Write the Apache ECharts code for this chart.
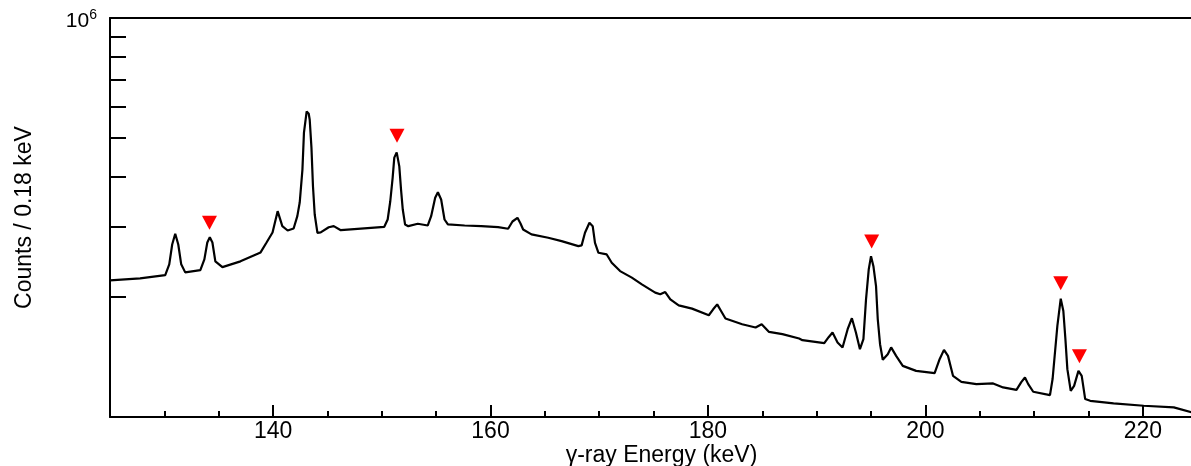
<!DOCTYPE html>
<html>
<head>
<meta charset="utf-8">
<script src="https://cdn.jsdelivr.net/npm/echarts@6/dist/echarts.min.js"></script>
<style>
  html, body { margin: 0; padding: 0; background: #fff; }
  #chart { width: 1191px; height: 466px; }
</style>
</head>
<body>
<div id="chart"></div>
<script>
// spectrum (keV, counts per 0.18 keV)
const energy = [
  125.0, 127.77, 130.08, 130.45, 130.72, 131.0, 131.28, 131.55, 131.92, 133.31,
  133.68, 133.95, 134.18, 134.42, 134.69, 135.34, 137.0, 138.85, 139.4, 139.95,
  140.42, 140.85, 141.34, 141.89, 142.23, 142.45, 142.7, 142.84, 143.09, 143.28,
  143.37, 143.53, 143.67, 143.83, 144.08, 144.38, 145.12, 145.58, 146.23, 147.77,
  150.23, 150.54, 150.78, 151.0, 151.15, 151.37, 151.61, 151.77, 151.93, 152.14,
  152.44, 153.31, 154.23, 154.54, 154.91, 155.16, 155.46, 155.77, 156.08, 157.62,
  159.15, 160.7, 161.62, 162.02, 162.48, 162.76, 163.0, 163.77, 165.31, 166.54,
  168.08, 168.38, 168.69, 169.1, 169.4, 169.61, 169.93, 170.69, 171.15, 171.92,
  173.0, 173.92, 175.15, 175.61, 176.07, 176.54, 177.31, 178.54, 180.08, 180.48,
  180.85, 181.22, 181.61, 183.15, 184.38, 184.94, 185.62, 186.85, 188.39, 188.69,
  190.7, 191.1, 191.46, 191.92, 192.38, 192.85, 193.24, 193.61, 193.98, 194.3,
  194.54, 194.79, 195.0, 195.22, 195.46, 195.62, 195.83, 196.08, 196.54, 196.85,
  197.31, 197.92, 199.15, 200.85, 201.31, 201.71, 202.08, 202.54, 203.31, 204.69,
  206.23, 207.15, 208.38, 208.82, 209.16, 209.46, 209.92, 211.46, 211.7, 211.92,
  212.14, 212.45, 212.69, 212.88, 213.06, 213.37, 213.68, 214.08, 214.38, 214.7,
  215.16, 217.31, 220.08, 222.85, 224.79
]
const counts = [
  220000, 222600, 226800, 241300, 270600, 287900, 270600, 241300, 230400, 233400,
  248300, 273800, 282300, 273800, 245500, 237500, 245500, 258500, 273800, 290100,
  328000, 300800, 293400, 296800, 318700, 344700, 416900, 515800, 583300, 575400,
  555900, 473200, 378700, 321800, 289500, 290100, 299000, 300800, 293900, 296300,
  299700, 312600, 347300, 398100, 446700, 460500, 424800, 371500, 331100, 303800,
  300800, 305000, 302000, 318700, 354200, 365800, 350800, 312600, 303800, 302000,
  300800, 299000, 296300, 309000, 315700, 305500, 295100, 286800, 281300, 275900,
  268100, 269200, 289500, 306700, 300800, 273300, 258000, 255500, 243600, 232100,
  223500, 215000, 205000, 203000, 205700, 197200, 190500, 186900, 179900, 186200,
  191600, 184100, 176500, 170800, 167600, 170800, 163400, 161300, 157300, 155800,
  153100, 158500, 162800, 153700, 149400, 166000, 176800, 162800, 147900, 156700,
  197200, 234400, 253000, 238800, 212900, 175800, 152200, 139100, 143700, 149400,
  142300, 134300, 130500, 128800, 139600, 147300, 142300, 126800, 122500, 120900,
  121400, 118600, 117000, 122300, 125600, 120900, 115700, 113500, 124500, 145100,
  169100, 198000, 184400, 156700, 131800, 116300, 119700, 130500, 126800, 110900,
  109800, 108200, 106700, 105700, 102300
]
// red triangles above the marked lines
const markEnergy = [134.15, 151.4, 195.06, 212.45, 214.17]
const markCounts = [307000, 507000, 275400, 216300, 142000]

const xMajor = [140, 160, 180, 200, 220]
const xMinor = [125, 130, 135, 145, 150, 155, 165, 170, 175, 185, 190, 195, 205, 210, 215]
const yTicks = [200000, 300000, 400000, 500000, 600000, 700000, 800000, 900000, 1000000]

const font = 'Liberation Sans, Arial, Helvetica, sans-serif'
const xMin = 125
const xMax = 224.8

let myChart = echarts.init(document.getElementById('chart'))

let spectrum = energy.map((e, i) => [e, counts[i]])
let marks = markEnergy.map((e, i) => [e, markCounts[i]])

let option = {
  animation: false,
  backgroundColor: '#fff',
  grid: { left: 110, right: -4, top: 18, bottom: 49, outerBoundsMode: 'none', containLabel: false },
  xAxis: [
    {
      type: 'value',
      position: 'bottom',
      min: xMin,
      max: xMax,
      name: 'γ-ray Energy (keV)',
      nameLocation: 'middle',
      nameGap: 27,
      nameMoveOverlap: false,
      nameTextStyle: { fontFamily: font, fontSize: 23, color: '#000', padding: [0, 0, 0, 18] },
      axisLine: { lineStyle: { color: '#000', width: 2 } },
      axisTick: { inside: true, length: 12, customValues: xMajor, lineStyle: { color: '#000', width: 2 } },
      axisLabel: { customValues: xMajor, margin: 3, fontFamily: font, fontSize: 23, color: '#000' },
      splitLine: { show: false },
    },
    {
      type: 'value',
      position: 'bottom',
      min: xMin,
      max: xMax,
      axisLine: { show: false },
      axisTick: { inside: true, length: 6, customValues: xMinor, lineStyle: { color: '#000', width: 2 } },
      axisLabel: { show: false },
      splitLine: { show: false },
    },
    {
      type: 'value',
      position: 'top',
      min: xMin,
      max: xMax,
      axisLine: { lineStyle: { color: '#000', width: 2 } },
      axisTick: { show: false },
      axisLabel: { show: false },
      splitLine: { show: false },
    },
  ],
  yAxis: [
    {
      type: 'log',
      logBase: 10,
      min: 100000,
      max: 1000000,
      name: 'Counts / 0.18 keV',
      nameLocation: 'middle',
      nameGap: 74,
      nameMoveOverlap: false,
      nameTextStyle: { fontFamily: font, fontSize: 23, color: '#000' },
      axisLine: { show: true, lineStyle: { color: '#000', width: 2 } },
      axisTick: { inside: true, length: 16, customValues: yTicks, lineStyle: { color: '#000', width: 2 } },
      axisLabel: {
        customValues: [1000000],
        margin: 13,
        padding: [6, 0, 0, 0],
        formatter: () => '{b|10}{s|6}',
        rich: {
          b: { fontFamily: font, fontSize: 21, color: '#000' },
          s: { fontFamily: font, fontSize: 14, color: '#000', verticalAlign: 'top', padding: [0, 0, 12, 0] },
        },
      },
      splitLine: { show: false },
    },
  ],
  series: [
    {
      type: 'line',
      data: spectrum,
      showSymbol: false,
      lineStyle: { color: '#000', width: 2.2 },
      z: 3,
    },
    {
      type: 'scatter',
      data: marks,
      symbol: 'triangle',
      symbolRotate: 180,
      symbolSize: [15, 14],
      itemStyle: { color: '#ff0000', opacity: 1 },
      z: 4,
    },
  ],
}
myChart.setOption(option)
</script>
</body>
</html>
